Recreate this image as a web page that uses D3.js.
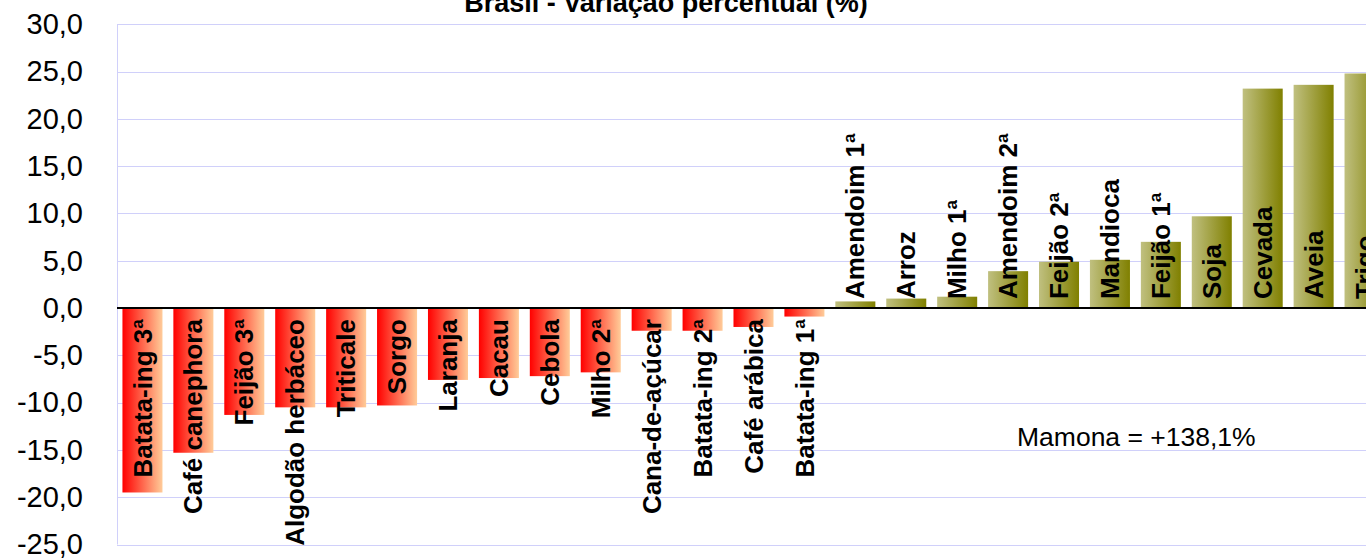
<!DOCTYPE html>
<html>
<head>
    <meta charset='utf-8'>
    <title>Brasil - Variação percentual (%)</title>
    <style>
        body { margin: 0; background: #fff; }
        svg { display: block; font-family: "Liberation Sans", Arial, sans-serif; }
    </style>
</head>
<body>
<svg width="1366" height="558"></svg>
<script src="https://d3js.org/d3.v7.min.js"></script>
<script>
    const categories = ["Batata-ing 3ª", "Café canephora", "Feijão 3ª", "Algodão herbáceo", "Triticale",
        "Sorgo", "Laranja", "Cacau", "Cebola", "Milho 2ª", "Cana-de-açúcar", "Batata-ing 2ª",
        "Café arábica", "Batata-ing 1ª", "Amendoim 1ª", "Arroz", "Milho 1ª", "Amendoim 2ª",
        "Feijão 2ª", "Mandioca", "Feijão 1ª", "Soja", "Cevada", "Aveia", "Trigo"]
    const values = [-19.5, -15.3, -11.3, -10.5, -10.5, -10.3, -7.6, -7.4, -7.2, -6.8, -2.4, -2.4,
        -2.0, -0.9, 0.7, 1.0, 1.2, 3.9, 4.9, 5.1, 7.0, 9.7, 23.2, 23.6, 24.8]
    const yTicks = [30, 25, 20, 15, 10, 5, 0, -5, -10, -15, -20, -25]
    const title = "Brasil - Variação percentual (%)"
    const note = "Mamona = +138,1%"

    const data = categories.map((name, i) => ({name, value: values[i]}))
    const fmt = v => d3.format(".1f")(v).replace(".", ",").replace("−", "-")

    const svg = d3.select("svg")
    const left = 117

    const x = d3.scaleBand()
        .domain(categories)
        .range([left, 1390])
        .paddingInner(0.214)
        .paddingOuter(0.107)

    const y = d3.scaleLinear()
        .domain([-25, 30])
        .range([544.5, 24.3])

    // gradients
    const defs = svg.append("defs")
    const grad = (id, from, to) => {
        const g = defs.append("linearGradient").attr("id", id)
            .attr("x1", "0%").attr("x2", "100%").attr("y1", "0%").attr("y2", "0%")
        g.append("stop").attr("offset", "0%").attr("stop-color", from)
        g.append("stop").attr("offset", "100%").attr("stop-color", to)
    }
    grad("neg", "#ff0000", "#ffcc99")
    grad("pos", "#c0c080", "#808000")

    // grid
    svg.append("g")
        .selectAll("line")
        .data(yTicks)
        .join("line")
        .attr("x1", left)
        .attr("x2", 1366)
        .attr("y1", d => Math.round(y(d)) + 0.5)
        .attr("y2", d => Math.round(y(d)) + 0.5)
        .attr("stroke", "#d0d0fa")
        .attr("stroke-width", 1)

    svg.append("line")
        .attr("x1", left + 0.5).attr("x2", left + 0.5)
        .attr("y1", y(30)).attr("y2", y(-25))
        .attr("stroke", "#d0d0fa")

    // y axis labels
    const yAxis = d3.axisLeft(y)
        .tickValues(yTicks)
        .tickFormat(fmt)
        .tickSize(0)
        .tickPadding(0)
    svg.append("g")
        .attr("transform", "translate(83,0)")
        .call(yAxis)
        .call(g => g.select(".domain").remove())
        .call(g => g.selectAll("text")
            .attr("font-size", 29)
            .attr("font-family", "Liberation Sans, Arial, sans-serif")
            .attr("fill", "#000"))

    // bars
    svg.append("g")
        .selectAll("rect")
        .data(data)
        .join("rect")
        .attr("x", d => x(d.name))
        .attr("y", d => y(Math.max(0, d.value)))
        .attr("width", x.bandwidth())
        .attr("height", d => Math.abs(y(d.value) - y(0)))
        .attr("fill", d => d.value < 0 ? "url(#neg)" : "url(#pos)")

    // zero line
    svg.append("line")
        .attr("x1", left).attr("x2", 1366)
        .attr("y1", y(0)).attr("y2", y(0))
        .attr("stroke", "#000")
        .attr("stroke-width", 2)

    // category labels
    svg.append("g")
        .attr("font-size", 26)
        .attr("font-weight", "bold")
        .selectAll("text")
        .data(data)
        .join("text")
        .attr("transform", d => {
            const cx = x(d.name) + x.bandwidth() / 2
            const cy = d.value < 0 ? y(0) + 11 : y(0) - 9
            return `translate(${cx},${cy}) rotate(-90)`
        })
        .attr("dy", "0.35em")
        .attr("text-anchor", d => d.value < 0 ? "end" : "start")
        .text(d => d.name)

    // title
    svg.append("text")
        .attr("x", 666)
        .attr("y", 12)
        .attr("text-anchor", "middle")
        .attr("font-size", 27)
        .attr("font-weight", "bold")
        .text(title)

    svg.append("text")
        .attr("x", 1017)
        .attr("y", 446)
        .attr("font-size", 26.5)
        .text(note)
</script>
</body>
</html>
